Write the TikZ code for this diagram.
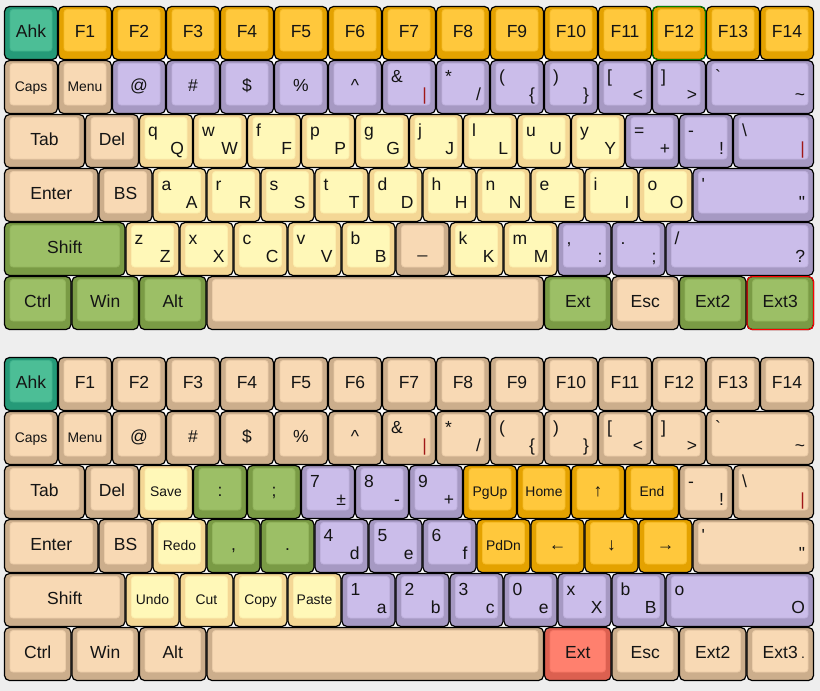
\documentclass[tikz,border=0pt]{standalone}
\usepackage{fontspec}
\setmainfont{Liberation Sans}
\newfontfamily\kf{Liberation Sans}
\newcommand\lgfont{\kf\fontsize{17.5}{17.5}\selectfont}
\newcommand\smfont{\kf\fontsize{13.9}{14}\selectfont}
\definecolor{tealo}{HTML}{259A78}
\definecolor{teali}{HTML}{4CBE96}
\definecolor{orao}{HTML}{E4A200}
\definecolor{orai}{HTML}{FFC83C}
\definecolor{beio}{HTML}{CCAE8C}
\definecolor{beii}{HTML}{F8D9B4}
\definecolor{puro}{HTML}{A699C3}
\definecolor{puri}{HTML}{CBBDEA}
\definecolor{yelo}{HTML}{F4D795}
\definecolor{yeli}{HTML}{FFF8B8}
\definecolor{greo}{HTML}{7A9B45}
\definecolor{grei}{HTML}{9CBF66}
\definecolor{redo}{HTML}{DC6050}
\definecolor{redi}{HTML}{FF806E}
\definecolor{txt}{HTML}{141414}
\definecolor{leg}{HTML}{A01818}
\definecolor{bg}{HTML}{EEEEEE}
\tikzset{
 keyo/.style={rectangle, draw=black, line width=1.2pt, rounded corners=5pt, anchor=north west, inner sep=0pt, outer sep=0pt, minimum height=53pt},
 keyi/.style={rectangle, line width=0.8pt, rounded corners=3pt, anchor=north west, inner sep=0pt, outer sep=0pt, minimum height=41.5pt},
 lg/.style={font=\lgfont, text=txt, inner sep=0pt, outer sep=0pt},
 sm/.style={font=\smfont, text=txt, inner sep=0pt, outer sep=0pt},
 hilite/.style={line width=1pt, rounded corners=5pt},
}
% key: name, x (units), width (units), top y (px), colour scheme, legends
\newcommand\K[6]{%
 \def\knm{#1}%
 \pgfmathsetmacro\kx{4+54*(#2)}%
 \pgfmathsetmacro\kw{54*(#3)}%
 \def\ky{#4}%
 \node[keyo, fill=#5o, minimum width={(\kw-1)*1pt}] (#1) at (\kx+0.5,\ky+0.5) {};%
 \node[keyi, fill=#5i, draw=#5i!70!#5o, minimum width={(\kw-12)*1pt}] (#1-top) at (\kx+6,\ky+3.5) {};%
 #6}
\newcommand\KC[1]{\node[lg, anchor=base] (\knm-c) at (\kx+\kw/2,\ky+31) {#1};}
\newcommand\KCs[1]{\node[sm, anchor=base] (\knm-c) at (\kx+\kw/2,\ky+31) {#1};}
\newcommand\KTL[1]{\node[lg, anchor=base west] (\knm-tl) at (\kx+9,\ky+22) {#1};}
\newcommand\KBR[1]{\node[lg, anchor=base east] (\knm-br) at (\kx+\kw-9,\ky+40) {#1};}
\newcommand\KRC[1]{\node[sm, anchor=base east] (\knm-r) at (\kx+\kw-9,\ky+31) {#1};}
\newcommand\RowOne[3]{%
 \K{#1ahk}{0}{1}{#2}{teal}{\KC{Ahk}}%
 \foreach \i in {1,...,14}{\K{#1F\i}{\i}{1}{#2}{#3}{\KC{F\i}}}%
}
\newcommand\RowTwo[3]{%
 \K{#1caps}{0}{1}{#2}{bei}{\KCs{Caps}}%
 \K{#1menu}{1}{1}{#2}{bei}{\KCs{Menu}}%
 \K{#1at}{2}{1}{#2}{#3}{\KC{@}}%
 \K{#1hash}{3}{1}{#2}{#3}{\KC{\#}}%
 \K{#1dol}{4}{1}{#2}{#3}{\KC{\$}}%
 \K{#1pct}{5}{1}{#2}{#3}{\KC{\%}}%
 \K{#1car}{6}{1}{#2}{#3}{\KC{\symbol{94}}}%
 \K{#1amp}{7}{1}{#2}{#3}{\KTL{\&}\KBR{\textcolor{leg}{|}}}%
 \K{#1ast}{8}{1}{#2}{#3}{\KTL{*}\KBR{/}}%
 \K{#1lp}{9}{1}{#2}{#3}{\KTL{(}\KBR{\{}}%
 \K{#1rp}{10}{1}{#2}{#3}{\KTL{)}\KBR{\}}}%
 \K{#1lb}{11}{1}{#2}{#3}{\KTL{[}\KBR{<}}%
 \K{#1rb}{12}{1}{#2}{#3}{\KTL{]}\KBR{>}}%
 \K{#1grv}{13}{2}{#2}{#3}{\KTL{\symbol{96}}\KBR{\symbol{126}}}%
}
\begin{document}
\begin{tikzpicture}[x=1pt,y=-1pt]
\fill[bg] (0,0) rectangle (820,691);
\useasboundingbox (0,0) rectangle (820,691);
\fill[white] (6.5,8.5) rectangle (811.5,327.5);
\fill[white] (6.5,359.5) rectangle (811.5,678.5);
% ================= top keyboard =================
\RowOne{t}{6}{ora}
\RowTwo{t}{60}{pur}
% row 3
\K{ttab}{0}{1.5}{114}{bei}{\KC{Tab}}
\K{tdel}{1.5}{1}{114}{bei}{\KC{Del}}
\foreach \l/\u [count=\n from 0] in {q/Q,w/W,f/F,p/P,g/G,j/J,l/L,u/U,y/Y}
 {\K{t\l}{2.5+\n}{1}{114}{yel}{\KTL{\l}\KBR{\u}}}
\K{teq}{11.5}{1}{114}{pur}{\KTL{=}\KBR{+}}
\K{tmin}{12.5}{1}{114}{pur}{\KTL{-}\KBR{!}}
\K{tbsl}{13.5}{1.5}{114}{pur}{\KTL{\symbol{92}}\KBR{\textcolor{leg}{|}}}
% row 4
\K{tent}{0}{1.75}{168}{bei}{\KC{Enter}}
\K{tbsp}{1.75}{1}{168}{bei}{\KC{BS}}
\foreach \l/\u [count=\n from 0] in {a/A,r/R,s/S,t/T,d/D,h/H,n/N,e/E,i/I,o/O}
 {\K{h\l}{2.75+\n}{1}{168}{yel}{\KTL{\l}\KBR{\u}}}
\K{tquo}{12.75}{2.25}{168}{pur}{\KTL{'}\KBR{"}}
% row 5
\K{tshift}{0}{2.25}{222}{gre}{\KC{Shift}}
\foreach \l/\u [count=\n from 0] in {z/Z,x/X,c/C,v/V,b/B}
 {\K{l\l}{2.25+\n}{1}{222}{yel}{\KTL{\l}\KBR{\u}}}
\K{tund}{7.25}{1}{222}{bei}{\KC{\_}}
\K{lk}{8.25}{1}{222}{yel}{\KTL{k}\KBR{K}}
\K{lm}{9.25}{1}{222}{yel}{\KTL{m}\KBR{M}}
\K{tcom}{10.25}{1}{222}{pur}{\KTL{,}\KBR{:}}
\K{tdot}{11.25}{1}{222}{pur}{\KTL{.}\KBR{;}}
\K{tsl}{12.25}{2.75}{222}{pur}{\KTL{/}\KBR{?}}
% row 6
\K{tctrl}{0}{1.25}{276}{gre}{\KC{Ctrl}}
\K{twin}{1.25}{1.25}{276}{gre}{\KC{Win}}
\K{talt}{2.5}{1.25}{276}{gre}{\KC{Alt}}
\K{tspc}{3.75}{6.25}{276}{bei}{}
\K{text}{10}{1.25}{276}{gre}{\KC{Ext}}
\K{tesc}{11.25}{1.25}{276}{bei}{\KC{Esc}}
\K{text2}{12.5}{1.25}{276}{gre}{\KC{Ext2}}
\K{text3}{13.75}{1.25}{276}{gre}{\KC{Ext3}}
\draw[hilite, green!50!black] (tF12.north west) rectangle (tF12.south east);
\draw[hilite, red] (text3.north west) rectangle (text3.south east);
% ================= bottom keyboard =================
\RowOne{B}{357}{bei}
\RowTwo{B}{411}{bei}
% row 3
\K{Btab}{0}{1.5}{465}{bei}{\KC{Tab}}
\K{Bdel}{1.5}{1}{465}{bei}{\KC{Del}}
\K{Bsave}{2.5}{1}{465}{yel}{\KCs{Save}}
\K{Bcol}{3.5}{1}{465}{gre}{\KC{:}}
\K{Bsem}{4.5}{1}{465}{gre}{\KC{;}}
\K{B7}{5.5}{1}{465}{pur}{\KTL{7}\KBR{±}}
\K{B8}{6.5}{1}{465}{pur}{\KTL{8}\KBR{-}}
\K{B9}{7.5}{1}{465}{pur}{\KTL{9}\KBR{+}}
\K{Bpgup}{8.5}{1}{465}{ora}{\KCs{PgUp}}
\K{Bhome}{9.5}{1}{465}{ora}{\KCs{Home}}
\K{Bup}{10.5}{1}{465}{ora}{\KC{↑}}
\K{Bend}{11.5}{1}{465}{ora}{\KCs{End}}
\K{Bmin}{12.5}{1}{465}{bei}{\KTL{-}\KBR{!}}
\K{Bbsl}{13.5}{1.5}{465}{bei}{\KTL{\symbol{92}}\KBR{\textcolor{leg}{|}}}
% row 4
\K{Bent}{0}{1.75}{519}{bei}{\KC{Enter}}
\K{Bbsp}{1.75}{1}{519}{bei}{\KC{BS}}
\K{Bredo}{2.75}{1}{519}{yel}{\KCs{Redo}}
\K{Bcom}{3.75}{1}{519}{gre}{\KC{,}}
\K{Bdot}{4.75}{1}{519}{gre}{\KC{.}}
\K{B4}{5.75}{1}{519}{pur}{\KTL{4}\KBR{d}}
\K{B5}{6.75}{1}{519}{pur}{\KTL{5}\KBR{e}}
\K{B6}{7.75}{1}{519}{pur}{\KTL{6}\KBR{f}}
\K{Bpgdn}{8.75}{1}{519}{ora}{\KCs{PdDn}}
\K{Bleft}{9.75}{1}{519}{ora}{\KC{←}}
\K{Bdown}{10.75}{1}{519}{ora}{\KC{↓}}
\K{Bright}{11.75}{1}{519}{ora}{\KC{→}}
\K{Bquo}{12.75}{2.25}{519}{bei}{\KTL{'}\KBR{"}}
% row 5
\K{Bshift}{0}{2.25}{573}{bei}{\KC{Shift}}
\K{Bundo}{2.25}{1}{573}{yel}{\KCs{Undo}}
\K{Bcut}{3.25}{1}{573}{yel}{\KCs{Cut}}
\K{Bcopy}{4.25}{1}{573}{yel}{\KCs{Copy}}
\K{Bpaste}{5.25}{1}{573}{yel}{\KCs{Paste}}
\K{B1}{6.25}{1}{573}{pur}{\KTL{1}\KBR{a}}
\K{B2}{7.25}{1}{573}{pur}{\KTL{2}\KBR{b}}
\K{B3}{8.25}{1}{573}{pur}{\KTL{3}\KBR{c}}
\K{B0}{9.25}{1}{573}{pur}{\KTL{0}\KBR{e}}
\K{Bx}{10.25}{1}{573}{pur}{\KTL{x}\KBR{X}}
\K{Bb}{11.25}{1}{573}{pur}{\KTL{b}\KBR{B}}
\K{Bo}{12.25}{2.75}{573}{pur}{\KTL{o}\KBR{O}}
% row 6
\K{Bctrl}{0}{1.25}{627}{bei}{\KC{Ctrl}}
\K{Bwin}{1.25}{1.25}{627}{bei}{\KC{Win}}
\K{Balt}{2.5}{1.25}{627}{bei}{\KC{Alt}}
\K{Bspc}{3.75}{6.25}{627}{bei}{}
\K{Bext}{10}{1.25}{627}{red}{\KC{Ext}}
\K{Besc}{11.25}{1.25}{627}{bei}{\KC{Esc}}
\K{Bext2}{12.5}{1.25}{627}{bei}{\KC{Ext2}}
\K{Bext3}{13.75}{1.25}{627}{bei}{\KC{Ext3}\KRC{.}}
\end{tikzpicture}
\end{document}
